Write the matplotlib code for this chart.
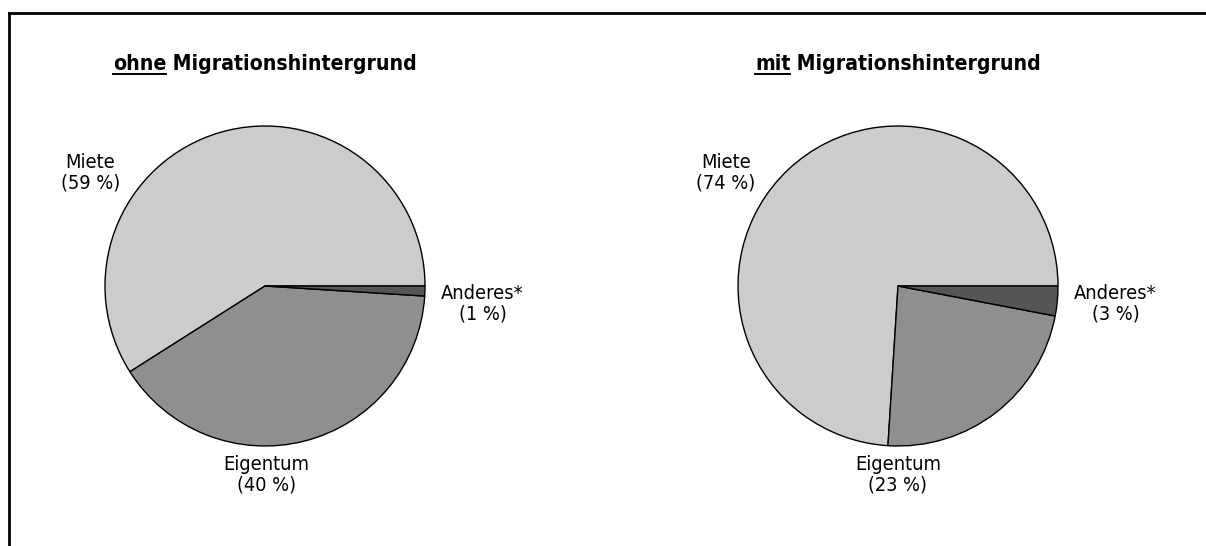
import matplotlib
matplotlib.use("Agg")
import matplotlib.pyplot as plt
from matplotlib.lines import Line2D

# Daten
categories = ["Miete", "Eigentum", "Anderes*"]
ohne_values = [59, 40, 1]
mit_values = [74, 23, 3]
titles_underlined = ["ohne", "mit"]
title_rest = " Migrationshintergrund"
colors = ["#cccccc", "#8f8f8f", "#555555"]

# Label-Positionen relativ zum Kreismittelpunkt (Radius = 1)
label_pos_left = [(-1.09, 0.71), (0.01, -1.18), (1.36, -0.11)]
label_pos_right = [(-1.075, 0.71), (0.0, -1.18), (1.36, -0.11)]

plt.rcParams["font.family"] = ["DejaVu Sans"]
plt.rcParams["font.stretch"] = "condensed"

W, H = 1206, 546
fig = plt.figure(figsize=(W / 100, H / 100), dpi=100)

centers = [(265, 286), (898, 286)]
R = 160  # Pixel


def draw_pie(cx, cy, values, label_pos):
    half = 1.5 * R
    ax = fig.add_axes([(cx - half) / W, (H - cy - half) / H, 2 * half / W, 2 * half / H])
    ax.pie(values, colors=colors, startangle=0, counterclock=True,
           wedgeprops=dict(edgecolor="black", linewidth=1.0))
    ax.set_xlim(-1.5, 1.5)
    ax.set_ylim(-1.5, 1.5)
    ax.set_aspect("equal")
    ax.axis("off")
    for cat, val, (lx, ly) in zip(categories, values, label_pos):
        ax.text(lx, ly, f"{cat}\n({val} %)", ha="center", va="center",
                multialignment="center", fontsize=14.3, linespacing=1.1)
    return ax


draw_pie(*centers[0], ohne_values, label_pos_left)
draw_pie(*centers[1], mit_values, label_pos_right)

# Titel mit unterstrichenem ersten Wort
renderer = fig.canvas.get_renderer()
title_base = 70  # Grundlinie in Pixel von oben
title_size = 15.2
for (cx, cy), word in zip(centers, titles_underlined):
    full = fig.text(0, 0, word + title_rest, fontsize=title_size, fontweight="bold")
    fw = full.get_window_extent(renderer).width
    full.remove()
    x0 = cx - fw / 2
    t1 = fig.text(x0 / W, 1 - title_base / H, word, fontsize=title_size, fontweight="bold",
                  va="baseline", ha="left")
    bb = t1.get_window_extent(renderer)
    fig.text(bb.x1 / W, 1 - title_base / H, title_rest, fontsize=title_size, fontweight="bold",
             va="baseline", ha="left")
    uy = 1 - (title_base + 4) / H
    fig.add_artist(Line2D([bb.x0 / W, bb.x1 / W], [uy, uy], color="black", linewidth=1.4))

# Rahmen (oben und links)
fig.add_artist(Line2D([8.5 / W, 1.0], [1 - 12.5 / H, 1 - 12.5 / H], color="black", linewidth=2.0))
fig.add_artist(Line2D([8.5 / W, 8.5 / W], [1 - 12.5 / H, 0.0], color="black", linewidth=2.0))

fig.savefig("out.png", dpi=100)
